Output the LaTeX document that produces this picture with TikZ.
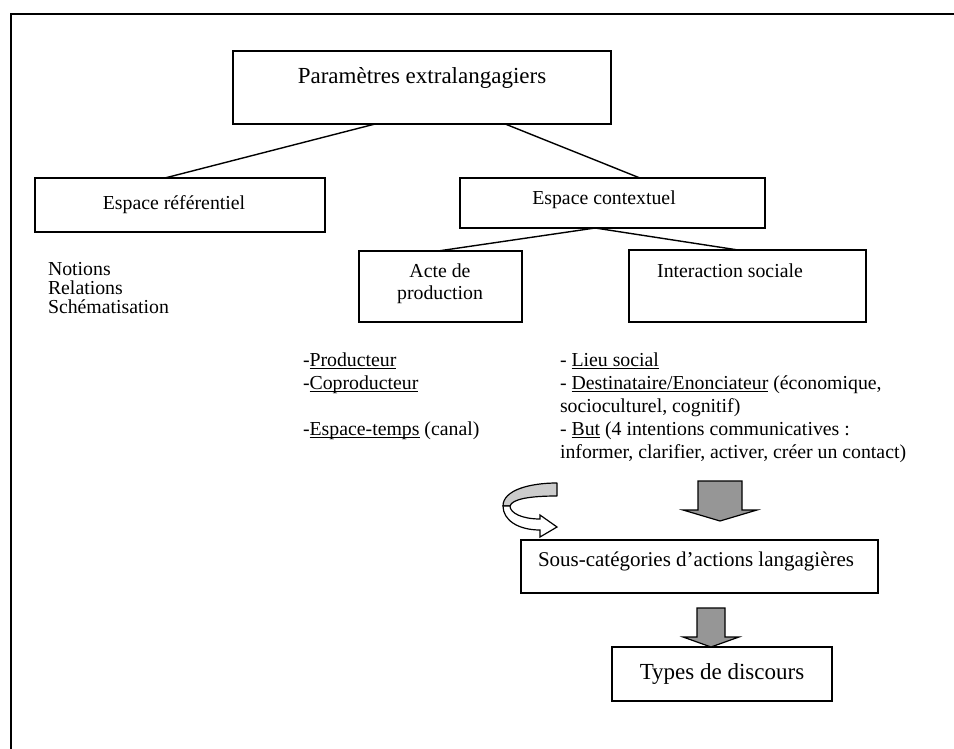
\documentclass[tikz,border=0pt]{standalone}
\usepackage{fontspec}
\setmainfont{Liberation Serif}
\usetikzlibrary{calc}
\definecolor{arrowgray}{RGB}{150,150,150}
\definecolor{bandgray}{RGB}{204,204,204}
\newcommand{\myul}[1]{\setbox0\hbox{#1}\rlap{\rule[-2.6pt]{\wd0}{0.8pt}}#1}
\begin{document}
\begin{tikzpicture}[x=1pt,y=-1pt,
  box/.style={draw, line width=1.4pt, inner sep=0pt, outer sep=0pt, anchor=north west},
  body/.style={font=\fontsize{19.8}{22.8}\selectfont, inner sep=0pt, outer sep=0pt},
  big/.style={font=\fontsize{23}{26}\selectfont, inner sep=0pt, outer sep=0pt},
  mid/.style={font=\fontsize{21}{24}\selectfont, inner sep=0pt, outer sep=0pt},
  link/.style={line width=1.4pt},
  garrow/.style={draw, line width=1.2pt, fill=arrowgray, line join=miter}]
\useasboundingbox (0,0) rectangle (954,749);
\draw[line width=2.2pt] (11,749) -- (11,14) -- (954,14);
% boxes
\node[box, minimum width=378pt, minimum height=73pt] (top) at (233,51) {};
\node[box, minimum width=290pt, minimum height=54pt] (ref) at (35,178) {};
\node[box, minimum width=305pt, minimum height=50pt] (ctx) at (460,178) {};
\node[box, minimum width=163pt, minimum height=71pt] (acte) at (359,251) {};
\node[box, minimum width=237pt, minimum height=72pt] (inter) at (629,250) {};
\node[box, minimum width=357pt, minimum height=53pt] (sous) at (521,540) {};
\node[box, minimum width=220pt, minimum height=54pt] (types) at (612,647) {};
% box texts
\node[big, anchor=base] (ttop) at (422,84) {Paramètres extralangagiers};
\node[body, anchor=base] (tref) at (174,210) {Espace référentiel};
\node[body, anchor=base] (tctx) at (604,205) {Espace contextuel};
\node[body, anchor=base, align=center] (tacte) at (440,277) {Acte de};
\node[body, anchor=base] (tacte2) at (440,299) {production};
\node[body, anchor=base] (tinter) at (730,277) {Interaction sociale};
\node[mid, anchor=base west] (tsous) at (538,566) {Sous-catégories d’actions langagières};
\node[big, anchor=base] (ttypes) at (722,679) {Types de discours};
% connectors
\draw[link] ($(top.south west)!0.376!(top.south east)$) -- ($(ref.north west)!0.448!(ref.north east)$);
\draw[link] ($(top.south west)!0.72!(top.south east)$) -- ($(ctx.north west)!0.59!(ctx.north east)$);
\coordinate (ctxb) at ($(ctx.south west)!0.443!(ctx.south east)$);
\draw[link] (ctxb) -- ($(acte.north west)!0.485!(acte.north east)$);
\draw[link] (ctxb) -- ($(inter.north west)!0.46!(inter.north east)$);
% lists
\node[body, anchor=base west] (n1) at (48,275) {Notions};
\node[body, anchor=base west] (n2) at (48,294) {Relations};
\node[body, anchor=base west] (n3) at (48,313) {Schématisation};
\node[body, anchor=base west] (p1) at (303,366) {-\myul{Producteur}};
\node[body, anchor=base west] (p2) at (303,389) {-\myul{Coproducteur}};
\node[body, anchor=base west] (p3) at (303,435) {-\myul{Espace-temps} (canal)};
\node[body, anchor=base west] (s1) at (560,366) {- \myul{Lieu social}};
\node[body, anchor=base west] (s2) at (560,389) {- \myul{Destinataire/Enonciateur} (économique,};
\node[body, anchor=base west] (s3) at (560,412) {socioculturel, cognitif)};
\node[body, anchor=base west] (s4) at (560,435) {- \myul{But} (4 intentions communicatives :};
\node[body, anchor=base west] (s5) at (560,458) {informer, clarifier, activer, créer un contact)};
% gray block arrows
\draw[garrow] (698,481) -- (742,481) -- (742,510) -- (757,510) -- (720,521) -- (683,510) -- (698,510) -- cycle;
\draw[garrow] (697,608) -- (725,608) -- (725,637) -- (739,637) -- (711,647) -- (683,637) -- (697,637) -- cycle;
% curved arrow
\draw[line width=1.2pt, fill=bandgray, line join=round]
  (557,483) -- (557,496) .. controls (530,496) and (512,499) .. (510,506)
  -- (503,506) .. controls (503,490) and (530,483) .. (557,483) -- cycle;
\draw[line width=1.2pt, fill=white, line join=miter]
  (503,506) .. controls (503,520) and (518,530) .. (540,530)
  -- (540,537) -- (557,527) -- (540,515) -- (540,519)
  .. controls (522,519) and (510,513) .. (510,506) -- cycle;
\end{tikzpicture}
\end{document}
